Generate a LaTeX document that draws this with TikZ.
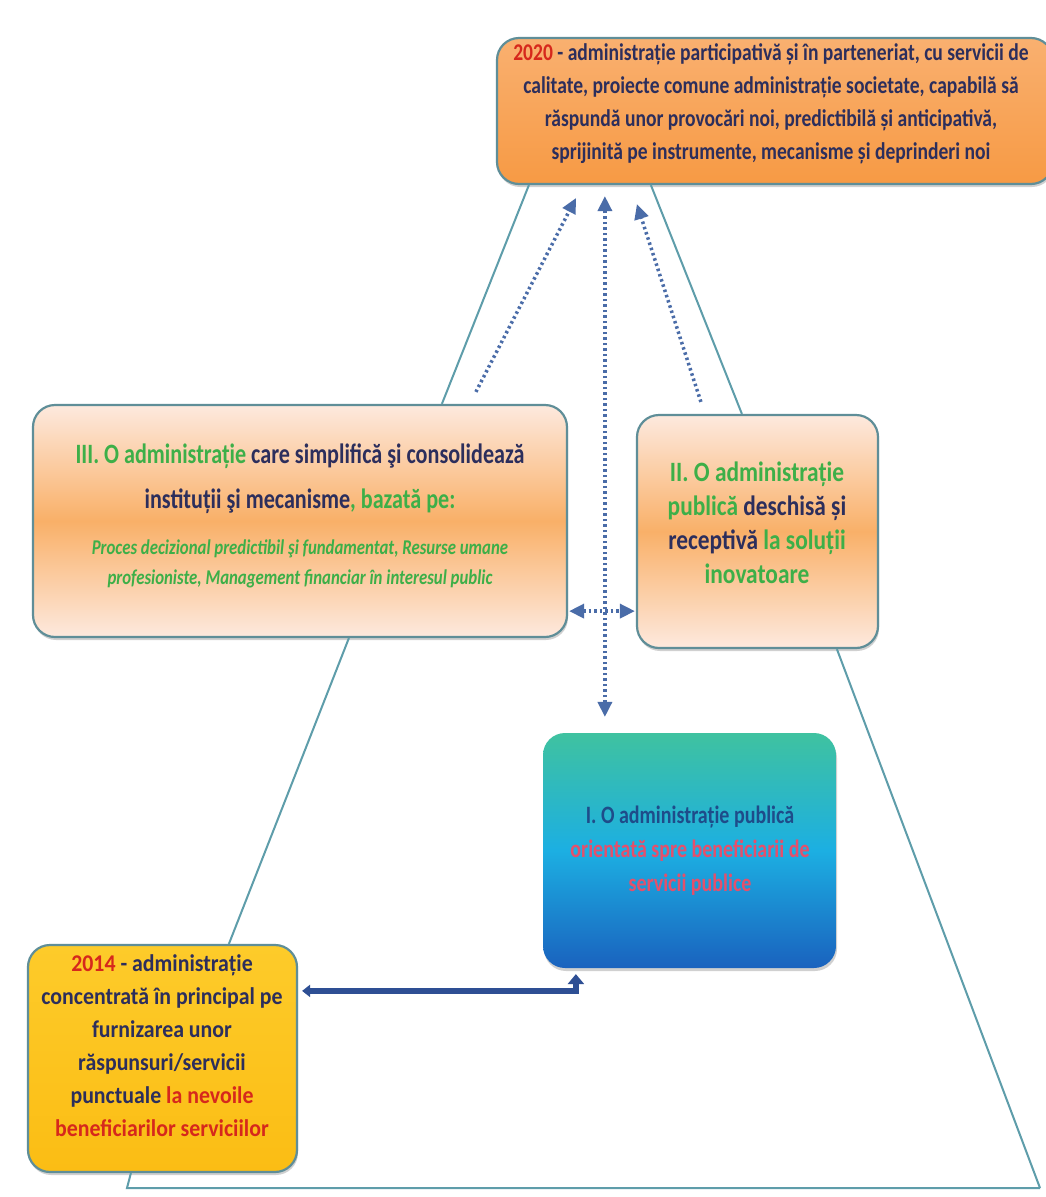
\documentclass[tikz,border=0pt]{standalone}
\usepackage{fontspec}
\setmainfont{Carlito}
\usetikzlibrary{arrows.meta,shadows,calc}
\definecolor{triline}{HTML}{5E9DAA}
\definecolor{bordc}{HTML}{5F8E98}
\definecolor{dotc}{HTML}{4A6CA8}
\definecolor{navyt}{HTML}{2C2E5C}
\definecolor{grnt}{HTML}{3DAF48}
\definecolor{redt}{HTML}{D6281C}
\definecolor{pinkt}{HTML}{E4506C}
\definecolor{bluet}{HTML}{1E4C8A}
\definecolor{arrc}{HTML}{2E4F94}
\definecolor{orA}{HTML}{F9B070}
\definecolor{orB}{HTML}{F79A44}
\definecolor{pchA}{HTML}{FDE9DE}
\definecolor{pchB}{HTML}{F9B068}
\definecolor{ylwA}{HTML}{FDCB2A}
\definecolor{ylwB}{HTML}{FBBD14}
\definecolor{tlA}{HTML}{3FC2A0}
\definecolor{tlB}{HTML}{1CAFE2}
\definecolor{tlC}{HTML}{1A62BE}
\newcommand{\sqz}[2]{\scalebox{#1}[1]{\begin{tabular}{@{}c@{}}#2\end{tabular}}}
\tikzset{
  boxbase/.style={rectangle, rounded corners=22pt, draw=bordc, line width=2.2pt, inner sep=0pt,
    drop shadow={shadow xshift=1pt, shadow yshift=-3pt, opacity=0.3, fill=black!60}},
  txt/.style={inner sep=0pt, font=\bfseries, text=navyt},
  tri/.style={draw=triline, line width=2pt},
  dotarr/.style={draw=dotc, line width=3.5pt, dash pattern=on 2.5pt off 3pt,
    -{Triangle[length=15pt,width=14pt]}},
  dotdbl/.style={draw=dotc, line width=3.5pt, dash pattern=on 2.5pt off 3pt,
    {Triangle[length=15pt,width=14pt]}-{Triangle[length=15pt,width=14pt]}},
  thickarr/.style={draw=arrc, line width=6pt,
    {Triangle[length=8pt,width=12pt]}-{Triangle[length=10pt,width=16pt]}}
}
\begin{document}
\begin{tikzpicture}[x=1pt,y=-1pt]
\useasboundingbox (0,0) rectangle (1046,1197);
\fill[white] (0,0) rectangle (1046,1197);

% boxes
\node[boxbase, top color=orA, bottom color=orB, minimum width=556pt, minimum height=146pt] (top) at (775,111) {};
\node[boxbase, top color=pchA, bottom color=pchA, middle color=pchB, minimum width=534pt, minimum height=232pt] (III) at (300,521) {};
\node[boxbase, top color=pchA, bottom color=pchA, middle color=pchB, minimum width=241pt, minimum height=233pt] (II) at (757.5,531.5) {};
\node[boxbase, draw=none, top color=tlA, bottom color=tlC, middle color=tlB, minimum width=293pt, minimum height=235pt] (I) at (689.5,850.5) {};
\node[boxbase, top color=ylwA, bottom color=ylwB, minimum width=269pt, minimum height=227pt] (T14) at (162.5,1058.5) {};

% texts
\node[txt] (ttop) at (771,103) {\fontsize{24}{33}\selectfont\sqz{0.815}{%
\textcolor{redt}{2020} - administrație participativă și în parteneriat, cu servicii de\\
calitate, proiecte comune administrație societate, capabilă să\\
răspundă unor provocări noi, predictibilă și anticipativă,\\
sprijinită pe instrumente, mecanisme și deprinderi noi}};

\node[txt] (t3a) at (300,477) {\fontsize{28}{45}\selectfont\sqz{0.79}{%
\textcolor{grnt}{III. O administrație} care simplifică şi consolidează\\
instituții şi mecanisme\textcolor{grnt}{, bazată pe:}}};
\node[txt, text=grnt] (t3b) at (300,563) {\fontsize{21}{30}\selectfont\itshape\sqz{0.8}{%
Proces decizional predictibil şi fundamentat, Resurse umane\\
profesioniste, Management financiar în interesul public}};

\node[txt] (t2) at (757,526) {\fontsize{28}{34}\selectfont\sqz{0.835}{%
\textcolor{grnt}{II. O administrație}\\
\textcolor{grnt}{publică} deschisă și\\
receptivă \textcolor{grnt}{la soluții}\\
\textcolor{grnt}{inovatoare}}};

\node[txt, text=bluet] (t1) at (690,851) {\fontsize{25}{34}\selectfont\sqz{0.8}{%
I. O administrație publică\\
\textcolor{pinkt}{orientată spre beneficiarii de}\\
\textcolor{pinkt}{servicii publice}}};

\node[txt] (t14) at (162,1047) {\fontsize{24}{33}\selectfont\sqz{0.91}{%
\textcolor{redt}{2014} - administrație\\
concentrată în principal pe\\
furnizarea unor\\
răspunsuri/servicii\\
punctuale \textcolor{redt}{la nevoile}\\
\textcolor{redt}{beneficiarilor serviciilor}}};

% triangle outline
\coordinate (bl) at (127,1188);
\coordinate (br) at (1040,1188);
\draw[tri] ($(top.south west)+(33,0)$) -- ($(III.north west)+(410,0)$);
\draw[tri] ($(top.south west)+(155,0)$) -- ($(II.north west)+(106,0)$);
\draw[tri] ($(III.south west)+(317,0)$) -- ($(T14.north west)+(202,0)$);
\draw[tri] ($(II.south west)+(201,0)$) -- (br);
\draw[tri] ($(T14.south west)+(104,0)$) -- (bl) -- (br);

% dotted arrows
\draw[dotarr] ($(III.north west)+(444,-12)$) -- ($(top.south west)+(80,13)$);
\draw[dotarr] ($(II.north west)+(65,-12)$) -- ($(top.south west)+(141,19)$);
\draw[dotdbl] ($(I.north west)+(63,-15)$) -- ($(top.south west)+(109,11)$);
\draw[dotdbl] ($(III.south east)+(1,-27)$) -- ($(II.south west)+(-1,-38)$);

% solid arrow
\draw[thickarr] ($(T14.north east)+(4,47)$) -| ($(I.south west)+(34,5)$);
\end{tikzpicture}
\end{document}
